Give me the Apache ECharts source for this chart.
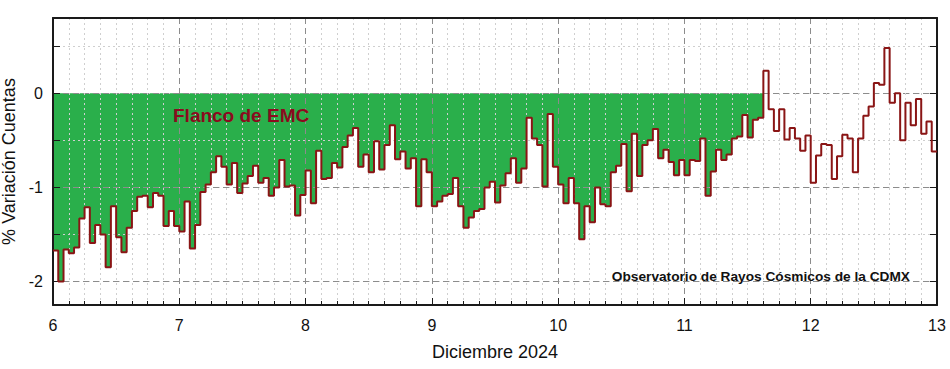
<!DOCTYPE html>
<html><head><meta charset="utf-8">
<script src="https://cdn.jsdelivr.net/npm/echarts@6/dist/echarts.min.js"></script>
<style>html,body{margin:0;padding:0;background:#fff}#c{width:950px;height:369px}</style>
</head><body><div id="c"></div>
<script>
// Hourly % variation of counts, 6–12 Dec 2024 (24 values per day)
const dec06 = [-1.67,-2.00,-1.66,-1.70,-1.64,-1.33,-1.21,-1.59,-1.40,-1.50,-1.85,-1.20,-1.53,-1.69,-1.43,-1.25,-1.10,-1.09,-1.21,-1.06,-1.09,-1.41,-1.25,-1.41];
const dec07 = [-1.47,-1.15,-1.65,-1.40,-1.05,-0.97,-0.84,-0.67,-0.78,-0.97,-0.74,-1.06,-0.96,-0.88,-0.77,-0.95,-0.90,-1.09,-1.00,-0.71,-0.99,-0.98,-1.30,-1.08];
const dec08 = [-0.82,-1.17,-0.61,-0.91,-0.90,-0.74,-0.79,-0.57,-0.45,-0.37,-0.78,-0.65,-0.84,-0.51,-0.81,-0.55,-0.34,-0.70,-0.62,-0.80,-0.69,-1.20,-0.70,-0.84];
const dec09 = [-1.20,-1.15,-1.09,-1.07,-0.90,-1.20,-1.43,-1.32,-1.25,-1.23,-1.00,-0.94,-1.16,-0.98,-0.85,-0.69,-0.95,-0.80,-0.26,-0.48,-0.55,-0.99,-0.22,-0.78];
const dec10 = [-0.97,-1.17,-0.90,-1.17,-1.55,-1.20,-1.37,-1.00,-1.18,-1.20,-0.84,-0.77,-0.54,-1.04,-0.43,-0.88,-0.55,-0.50,-0.38,-0.69,-0.60,-0.73,-0.87,-0.71];
const dec11 = [-0.87,-0.71,-0.72,-0.48,-1.09,-0.83,-0.60,-0.71,-0.65,-0.48,-0.46,-0.23,-0.47,-0.28,-0.26,0.24,-0.17,-0.40,-0.17,-0.49,-0.37,-0.48,-0.61,-0.45];
const dec12 = [-0.95,-0.66,-0.54,-0.55,-0.91,-0.67,-0.44,-0.48,-0.84,-0.48,-0.24,-0.14,0.11,0.09,0.48,-0.10,0.00,-0.50,-0.10,-0.34,-0.06,-0.43,-0.30,-0.62];

const firstDay = 6;            // 6 Dec 2024
const lastDay = 13;
const filledHours = 135;       // hours shaded as "Flanco de EMC"
const yTickValues = [-2, -1.5, -1, -0.5, 0, 0.5];
const yLabelValues = [-2, -1, 0];
const xTitle = 'Diciembre 2024';
const yTitle = '% Variación Cuentas';
const eventLabel = 'Flanco de EMC';
const sourceLabel = 'Observatorio de Rayos Cósmicos de la CDMX';

const allValues = [].concat(dec06, dec07, dec08, dec09, dec10, dec11, dec12);
function stepPoints(vals) {
  const pts = vals.map((v, h) => [firstDay + h / 24, v]);
  pts.push([firstDay + vals.length / 24, vals[vals.length - 1]]);
  return pts;
}
const lineData = stepPoints(allValues);
const fillData = stepPoints(allValues.slice(0, filledHours));

const FONT = 'Liberation Sans, Arial, sans-serif';
const AX = '#1a1a1a';
const chart = echarts.init(document.getElementById('c'), null, {renderer: 'svg'});
chart.setOption({
  animation: false,
  backgroundColor: '#ffffff',
  grid: {left: 53, right: 13, top: 18, bottom: 64, containLabel: false, outerBoundsMode: 'none'},
  xAxis: [{
    type: 'value', min: firstDay, max: lastDay, interval: 1, z: 3,
    name: xTitle, nameLocation: 'middle', nameGap: 38,
    nameTextStyle: {fontSize: 18, color: '#111', fontFamily: FONT},
    axisLine: {show: true, onZero: false, lineStyle: {color: AX, width: 2}},
    axisTick: {show: true, inside: true, length: 7, lineStyle: {color: AX, width: 1}},
    minorTick: {show: true, splitNumber: 8, length: 4, lineStyle: {color: AX, width: 1}},
    axisLabel: {fontSize: 16, color: '#111', margin: 12, fontFamily: FONT},
    splitLine: {show: true, lineStyle: {color: '#8c8c8c', type: [6, 4], width: 1}},
    minorSplitLine: {show: true, lineStyle: {color: '#cfcfcf', type: [2, 3], width: 1}}
  }, {
    type: 'value', min: firstDay, max: lastDay, position: 'top', z: 3,
    axisLine: {show: true, onZero: false, lineStyle: {color: AX, width: 2}},
    axisTick: {show: false}, axisLabel: {show: false}, splitLine: {show: false}
  }],
  yAxis: [{
    type: 'value', min: -2.25, max: 0.8, z: 3,
    name: yTitle, nameLocation: 'middle', nameGap: 34, nameRotate: 90,
    nameTextStyle: {fontSize: 18, color: '#111', fontFamily: FONT},
    axisLine: {show: true, onZero: false, lineStyle: {color: AX, width: 2}},
    axisTick: {show: true, inside: true, length: 7, customValues: yTickValues, lineStyle: {color: AX}},
    axisLabel: {customValues: yLabelValues, fontSize: 16, color: '#111', margin: 10, fontFamily: FONT},
    splitLine: {show: true, lineStyle: {color: '#cfcfcf', type: [2, 3], width: 1}}
  }, {
    type: 'value', min: -2.25, max: 0.8, position: 'left', z: 3,
    axisLine: {show: false}, axisTick: {show: false, customValues: yLabelValues},
    axisLabel: {show: false},
    splitLine: {show: true, lineStyle: {color: '#8c8c8c', type: [6, 4], width: 1}}
  }, {
    type: 'value', min: -2.25, max: 0.8, position: 'right', z: 3,
    axisLine: {show: true, onZero: false, lineStyle: {color: AX, width: 2}},
    axisTick: {show: true, inside: true, length: 7, customValues: yTickValues, lineStyle: {color: AX}},
    axisLabel: {show: false}, splitLine: {show: false}
  }],
  series: [{
    type: 'line', step: 'end', data: fillData, symbol: 'none', silent: true, z: 1,
    lineStyle: {width: 0, opacity: 0},
    areaStyle: {color: '#2aaf4b', opacity: 1}
  }, {
    type: 'line', step: 'end', data: lineData, symbol: 'none', silent: true, z: 5,
    lineStyle: {color: '#8a1515', width: 2}
  }],
  graphic: [{
    type: 'text', left: 173, top: 106, z: 10,
    style: {text: eventLabel, fill: '#8b0a1e', font: 'bold 19px ' + FONT}
  }, {
    type: 'text', right: 40, top: 269, z: 10,
    style: {text: sourceLabel, fill: '#111', font: 'bold 13.7px ' + FONT}
  }]
});
</script></body></html>
